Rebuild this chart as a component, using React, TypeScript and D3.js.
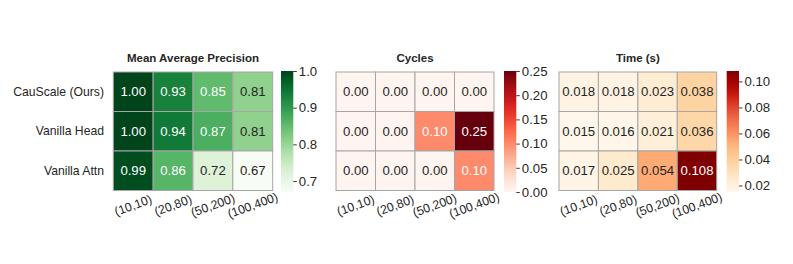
import React, { useEffect, useRef } from 'react';
import * as d3 from 'd3';

const rowLabels = ['CauScale (Ours)', 'Vanilla Head', 'Vanilla Attn'];
const colLabels = ['(10,10)', '(20,80)', '(50,200)', '(100,400)'];

const mapValues = [
    [1.00, 0.93, 0.85, 0.81],
    [1.00, 0.94, 0.87, 0.81],
    [0.99, 0.86, 0.72, 0.67],
];
const cycleValues = [
    [0.00, 0.00, 0.00, 0.00],
    [0.00, 0.00, 0.10, 0.25],
    [0.00, 0.00, 0.00, 0.10],
];
const timeValues = [
    [0.018, 0.018, 0.023, 0.038],
    [0.015, 0.016, 0.021, 0.036],
    [0.017, 0.025, 0.054, 0.108],
];

const mapTicks = [0.7, 0.8, 0.9, 1.0];
const cycleTicks = [0, 0.05, 0.10, 0.15, 0.20, 0.25];
const timeTicks = [0.02, 0.04, 0.06, 0.08, 0.10];

const FONT = '"Liberation Sans", Arial, Helvetica, sans-serif';

interface PanelSpec {
    title: string;
    data: number[][];
    interp: (t: number) => string;
    ticks: number[];
    tickFmt: string;
    annotFmt: string;
    x0: number;
    x1: number;
    cbX: number;
    showRows: boolean;
}

const panels: PanelSpec[] = [
    { title: 'Mean Average Precision', data: mapValues, interp: d3.interpolateGreens, ticks: mapTicks, tickFmt: '.1f', annotFmt: '.2f', x0: 113.3, x1: 272.7, cbX: 281, showRows: true },
    { title: 'Cycles', data: cycleValues, interp: d3.interpolateReds, ticks: cycleTicks, tickFmt: '.2f', annotFmt: '.2f', x0: 336, x1: 494, cbX: 504, showRows: false },
    { title: 'Time (s)', data: timeValues, interp: d3.interpolateOrRd, ticks: timeTicks, tickFmt: '.2f', annotFmt: '.3f', x0: 559, x1: 716.7, cbX: 726.7, showRows: false },
];

// seaborn picks annotation colour from relative luminance
function textColor(c: string) {
    const rgb = d3.rgb(c);
    const lin = (v: number) => {
        const s = v / 255;
        return s <= 0.03928 ? s / 12.92 : Math.pow((s + 0.055) / 1.055, 2.4);
    };
    const lum = 0.2126 * lin(rgb.r) + 0.7152 * lin(rgb.g) + 0.0722 * lin(rgb.b);
    return lum > 0.408 ? '#262626' : '#ffffff';
}

const App: React.FC = () => {
    const svgRef = useRef<SVGSVGElement | null>(null);

    useEffect(() => {
        const svg = d3.select(svgRef.current);
        svg.selectAll('*').remove();

        const gridTop = 72;
        const gridBottom = 190.5;
        const cbTop = 71;
        const cbBottom = 192;
        const cbW = 12.3;
        const defs = svg.append('defs');

        panels.forEach((p, pi) => {
            const flat = p.data.flat();
            const vmin = d3.min(flat) as number;
            const vmax = d3.max(flat) as number;
            const color = d3.scaleSequential(p.interp).domain([vmin, vmax]);

            const xScale = d3.scaleBand().domain(colLabels).range([p.x0, p.x1]);
            const yScale = d3.scaleBand().domain(rowLabels).range([gridTop, gridBottom]);

            const g = svg.append('g');

            // title
            g.append('text')
                .attr('x', (p.x0 + p.x1) / 2)
                .attr('y', 62)
                .attr('text-anchor', 'middle')
                .attr('font-family', FONT)
                .attr('font-size', 11.5)
                .attr('font-weight', 'bold')
                .attr('fill', '#262626')
                .text(p.title);

            const cells = p.data.flatMap((row, i) => row.map((value, j) => ({ x: colLabels[j], y: rowLabels[i], value })));

            g.append('g')
                .selectAll('rect')
                .data(cells)
                .enter()
                .append('rect')
                .attr('x', d => xScale(d.x)!)
                .attr('y', d => yScale(d.y)!)
                .attr('width', xScale.bandwidth())
                .attr('height', yScale.bandwidth())
                .attr('fill', d => color(d.value))
                .attr('stroke', '#a6a6a6')
                .attr('stroke-width', 1);

            g.append('g')
                .selectAll('text')
                .data(cells)
                .enter()
                .append('text')
                .attr('x', d => xScale(d.x)! + xScale.bandwidth() / 2)
                .attr('y', d => yScale(d.y)! + yScale.bandwidth() / 2)
                .attr('text-anchor', 'middle')
                .attr('dominant-baseline', 'central')
                .attr('font-family', FONT)
                .attr('font-size', 13.2)
                .attr('fill', d => textColor(color(d.value)))
                .text(d => d3.format(p.annotFmt)(d.value));

            // x tick labels, rotated
            g.append('g')
                .selectAll('text')
                .data(colLabels)
                .enter()
                .append('text')
                .attr('transform', d => `translate(${xScale(d)! + xScale.bandwidth() / 2},205.5) rotate(-20)`)
                .attr('text-anchor', 'middle')
                .attr('dominant-baseline', 'central')
                .attr('font-family', FONT)
                .attr('font-size', 12.3)
                .attr('fill', '#262626')
                .text(d => d);

            if (p.showRows) {
                g.append('g')
                    .selectAll('text')
                    .data(rowLabels)
                    .enter()
                    .append('text')
                    .attr('x', 104)
                    .attr('y', d => yScale(d)! + yScale.bandwidth() / 2)
                    .attr('text-anchor', 'end')
                    .attr('dominant-baseline', 'central')
                    .attr('font-family', FONT)
                    .attr('font-size', 12.2)
                    .attr('fill', '#262626')
                    .text(d => d);
            }

            // colorbar
            const gradId = `cb-grad-${pi}`;
            const grad = defs.append('linearGradient')
                .attr('id', gradId)
                .attr('x1', 0).attr('y1', 1).attr('x2', 0).attr('y2', 0);
            d3.range(0, 1.0001, 0.05).forEach(t => {
                grad.append('stop')
                    .attr('offset', t)
                    .attr('stop-color', p.interp(t));
            });
            g.append('rect')
                .attr('x', p.cbX)
                .attr('y', cbTop)
                .attr('width', cbW)
                .attr('height', cbBottom - cbTop)
                .attr('fill', `url(#${gradId})`);

            const cbScale = d3.scaleLinear().domain([vmin, vmax]).range([cbBottom, cbTop]);
            const axis = d3.axisRight(cbScale)
                .tickValues(p.ticks)
                .tickSize(3.5)
                .tickPadding(2)
                .tickFormat(d => d3.format(p.tickFmt)(d as number));
            const ax = g.append('g')
                .attr('transform', `translate(${p.cbX + cbW},0)`)
                .call(axis);
            ax.select('.domain').remove();
            ax.selectAll('line').attr('stroke', '#262626').attr('stroke-width', 0.9);
            ax.selectAll('text')
                .attr('font-family', FONT)
                .attr('font-size', 13.2)
                .attr('fill', '#262626');
        });
    }, []);

    return <svg ref={svgRef} width={793} height={264} style={{ position: 'absolute', left: 0, top: 0, background: '#fff' }}></svg>;
};

export default App;
